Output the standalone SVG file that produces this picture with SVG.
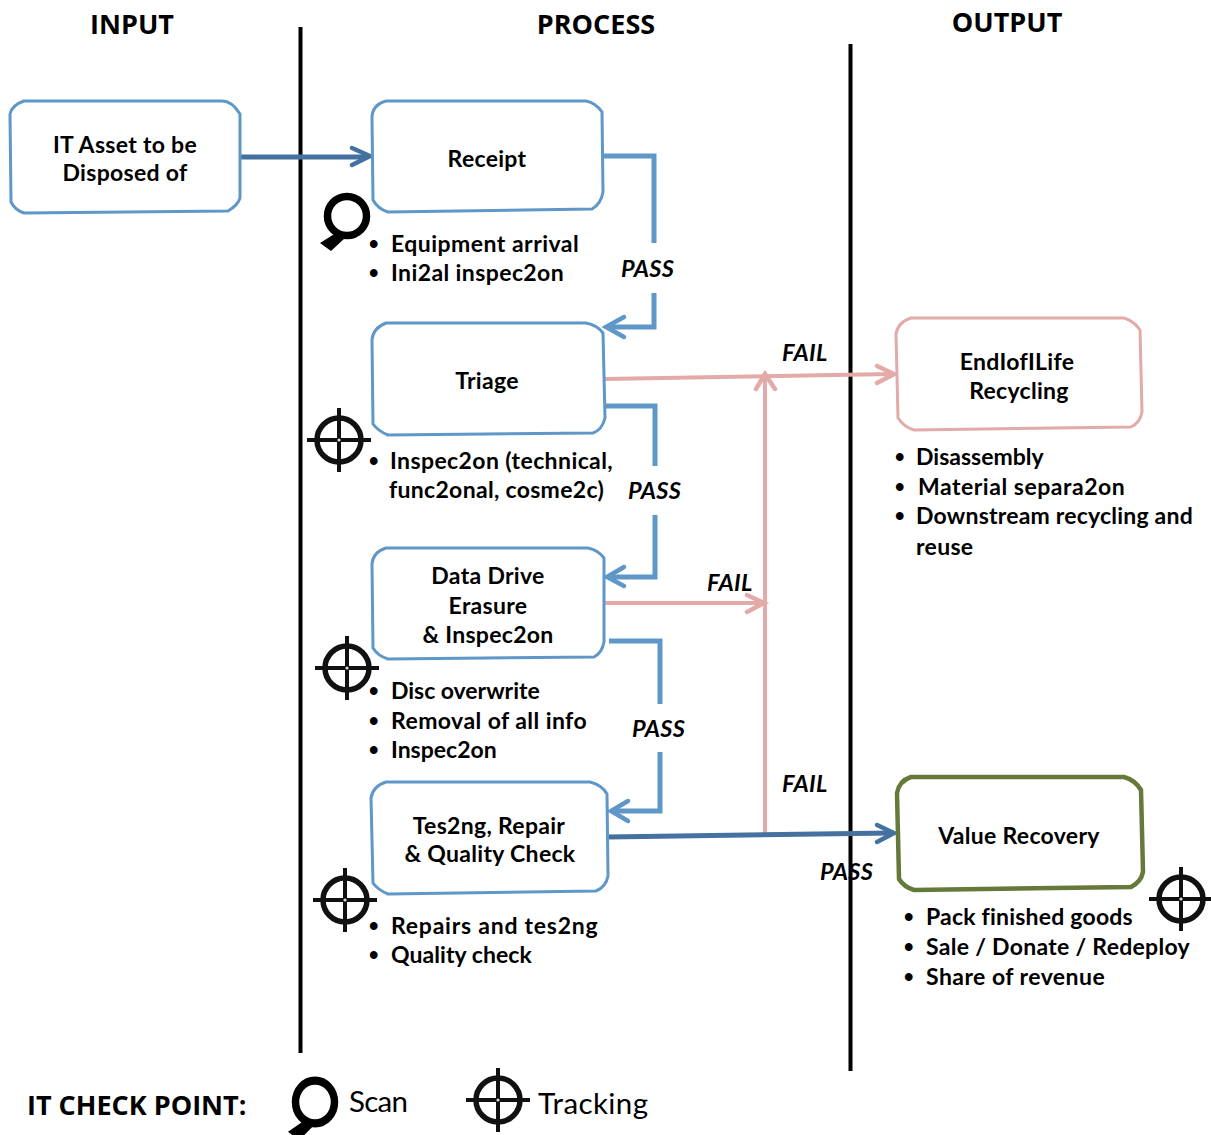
<svg xmlns="http://www.w3.org/2000/svg" xmlns:xlink="http://www.w3.org/1999/xlink" width="1211" height="1135" viewBox="0 0 1211 1135">
<style>
text{font-family:"Lato","Open Sans","Liberation Sans",sans-serif;font-weight:700;fill:#000;font-size:23px;letter-spacing:.3px}
.b{font-family:"Liberation Sans",sans-serif;font-size:27px;letter-spacing:0}
.c{text-anchor:middle}
.h{font-size:27px;text-anchor:middle;font-family:"Open Sans","Liberation Sans",sans-serif;font-weight:700;letter-spacing:0}
.i{font-style:italic;font-size:23.5px}
.l{font-weight:400;font-size:29.5px;letter-spacing:0}
.box{fill:#fff;stroke-width:3;stroke-linejoin:round}
.blue{stroke:#5f97c9}.pink{stroke:#e2aaa8}.green{stroke:#64793a;stroke-width:4.5}
.con{fill:none;stroke-width:5;stroke-linejoin:miter}
.pl{stroke:#5f97c9}.dk{stroke:#44719f}.pk{stroke:#e3aaa8;stroke-width:4}
.ah{fill:none;stroke-width:4.500;stroke-linecap:round;stroke-linejoin:miter}
.lane{stroke:#000;stroke-width:4;fill:none}
</style>
<defs>
<g id="cross"><circle cx="0" cy="0" r="22" fill="none" stroke="#111" stroke-width="5.500"/><path d="M0-32V32M-32 0H32" stroke="#111" stroke-width="4" fill="none"/><circle r="1.600" fill="#ddd"/></g>
<g id="mag"><circle cx="0" cy="0" r="19.500" fill="none" stroke="#000" stroke-width="7.500"/><path d="M-11 17L-27 27L-16 35L-2 22Z" fill="#000"/></g>
</defs>
<g id="lanes"><path class="lane" d="M300.500 27V1053M850.500 44V1071"/></g>
<g id="connectors">
<path class="con dk" d="M241 157H366"/><path class="ah dk" d="M352 148L370 156L352 165"/>
<path class="con pl" d="M602 156H654V243M654 293V327H610"/><path class="ah pl" d="M624 317L606 327L624 337"/>
<path class="con pl" d="M604 406H655V466M655 515V577H611"/><path class="ah pl" d="M624 567L607 577L624 586"/>
<path class="con pl" d="M609 641H660V704M660 752V811H615"/><path class="ah pl" d="M628 801L611 811L628 821"/>
<path class="con pk" d="M605 379L892 374"/><path class="ah pk" d="M877 366L894 374L877 383"/>
<path class="con pk" d="M605 603H760"/><path class="ah pk" d="M747 595L764 603L747 612"/>
<path class="con pk" d="M765 835V378"/><path class="ah pk" d="M756 389L765 374L775 389"/>
<path class="con dk" d="M608 837L891 833"/><path class="ah dk" d="M877 825L894 833L877 842"/>
</g>
<g id="input"><text class="h" x="132" y="34">INPUT</text></g>
<g id="process"><text class="h" x="596" y="34">PROCESS</text></g>
<g id="output"><text class="h" x="1007" y="32">OUTPUT</text></g>
<g id="asset"><path class="box blue" d="M24 101H222Q232 101 240 114V198Q238 205 228 211L24 213Q15 210 11 202L10 114Q12 105 24 101Z"/><text class="c" x="125" y="153">IT Asset to be</text><text class="c" x="125" y="181">Disposed of</text></g>
<g id="receipt"><path class="box blue" d="M386 101H586Q596 103 602 112L603 192Q601 204 592 209L388 212Q378 209 373 200L372 118Q372 105 386 101Z"/><text class="c" x="487" y="167">Receipt</text></g>
<g id="receipt-notes"><use xlink:href="#mag" href="#mag" x="347" y="216"/><text class="b" x="369" y="253">•</text><text x="391" y="252" textLength="188">Equipment arrival</text><text class="b" x="369" y="282">•</text><text x="391" y="281" textLength="173">Ini2al inspec2on</text></g>
<g id="triage"><path class="box blue" d="M386 323H586Q597 325 603 333L605 418Q602 430 593 433L388 435Q378 431 373 424L372 340Q373 328 386 323Z"/><text class="c" x="487" y="389">Triage</text></g>
<g id="triage-notes"><use xlink:href="#cross" href="#cross" x="339" y="440"/><text class="b" x="369" y="470">•</text><text x="390" y="469" textLength="223">Inspec2on (technical,</text><text x="389" y="498" textLength="215">func2onal, cosme2c)</text></g>
<g id="erasure"><path class="box blue" d="M386 548H588Q598 550 604 558V642Q602 653 594 657L388 659Q378 656 373 648L372 564Q373 552 386 548Z"/><text class="c" x="488" y="584">Data Drive</text><text class="c" x="488" y="614">Erasure</text><text class="c" x="488" y="643">&amp; Inspec2on</text></g>
<g id="erasure-notes"><use xlink:href="#cross" href="#cross" x="347" y="668"/><text class="b" x="369" y="700">•</text><text x="391" y="699" textLength="149">Disc overwrite</text><text class="b" x="369" y="730">•</text><text x="391" y="729" textLength="196">Removal of all info</text><text class="b" x="369" y="759">•</text><text x="391" y="758" textLength="106">Inspec2on</text></g>
<g id="testing"><path class="box blue" d="M386 782H590Q602 785 607 794L608 876Q606 887 596 891L388 894Q378 890 373 883L371 798Q373 786 386 782Z"/><text class="c" x="489" y="834">Tes2ng, Repair</text><text class="c" x="490" y="862">&amp; Quality Check</text></g>
<g id="testing-notes"><use xlink:href="#cross" href="#cross" x="345" y="900"/><text class="b" x="369" y="935">•</text><text x="391" y="934" textLength="207">Repairs  and tes2ng</text><text class="b" x="369" y="964">•</text><text x="391" y="963" textLength="141">Quality check</text></g>
<g id="recycling"><path class="box pink" d="M911 318H1124Q1134 321 1140 330L1142 412Q1140 423 1131 427L914 430Q904 427 898 418L896 334Q898 322 911 318Z"/><text class="c" x="1017" y="370">EndIofILife</text><text class="c" x="1019" y="399">Recycling</text></g>
<g id="recycling-notes"><text class="b" x="895" y="466">•</text><text x="916" y="465" textLength="128">Disassembly</text><text class="b" x="895" y="496">•</text><text x="918" y="495" textLength="207">Material  separa2on</text><text class="b" x="895" y="525">•</text><text x="916" y="524" textLength="277">Downstream recycling and</text><text x="916" y="555">reuse</text></g>
<g id="recovery"><path class="box green" d="M911 777H1124Q1135 780 1141 790L1143 872Q1141 882 1131 887L914 890Q904 887 899 879L897 793Q899 781 911 777Z"/><text class="c" x="1019" y="844">Value Recovery</text></g>
<g id="recovery-notes"><use xlink:href="#cross" href="#cross" x="1181" y="899"/><text class="b" x="904" y="926">•</text><text x="926" y="925" textLength="207">Pack finished goods</text><text class="b" x="904" y="956">•</text><text x="926" y="955" textLength="264">Sale / Donate / Redeploy</text><text class="b" x="904" y="986">•</text><text x="926" y="985" textLength="179">Share of revenue</text></g>
<g id="labels"><text class="i" x="621" y="277">PASS</text><text class="i" x="628" y="499">PASS</text><text class="i" x="632" y="737">PASS</text><text class="i" x="820" y="880">PASS</text><text class="i" x="782" y="361">FAIL</text><text class="i" x="707" y="591">FAIL</text><text class="i" x="782" y="792">FAIL</text></g>
<g id="legend"><text x="27" y="1115" style="font-size:27px;letter-spacing:0;font-family:'Open Sans','Liberation Sans',sans-serif">IT CHECK POINT:</text><g transform="translate(315 1102) scale(1 1.1)"><use xlink:href="#mag" href="#mag"/></g><text class="l" x="349" y="1112" textLength="59">Scan</text><use xlink:href="#cross" href="#cross" x="498" y="1100"/><text class="l" x="538" y="1114" textLength="110">Tracking</text></g>
</svg>
